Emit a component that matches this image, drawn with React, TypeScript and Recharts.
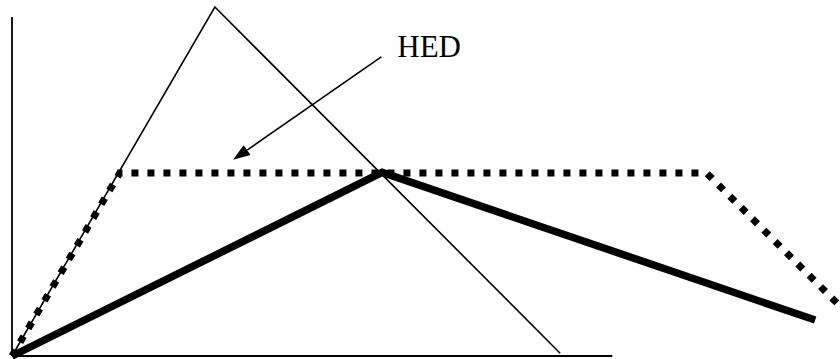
import { LineChart, Line, XAxis, YAxis, ReferenceLine } from 'recharts'

// x: time (arbitrary units), y: dose level (arbitrary units)
const thinPeak = [
  { x: 0, y: 0 },
  { x: 24.5, y: 100 },
  { x: 66.2, y: 0.8 },
]

const hedCurve = [
  { x: 0, y: 0 },
  { x: 13.0, y: 52.4 },
  { x: 83.9, y: 52.4 },
  { x: 100, y: 14.3 },
]

const boldCurve = [
  { x: 0, y: 0 },
  { x: 44.7, y: 52.6 },
  { x: 97.0, y: 10.3 },
]

const yAxisTop = 97.1
const xAxisEnd = 72.5
const arrowFrom = { x: 44.6, y: 85.7 }
const arrowTo = { x: 26.7, y: 56.2 }
const arrowLabel = 'HED'

function ArrowShape(props: any) {
  const { x1, y1, x2, y2 } = props
  const dx = x2 - x1
  const dy = y2 - y1
  const len = Math.sqrt(dx * dx + dy * dy)
  const ux = dx / len
  const uy = dy / len
  const head = 17
  const half = 6
  const bx = x2 - ux * head
  const by = y2 - uy * head
  const pts = `${x2},${y2} ${bx - uy * half},${by + ux * half} ${bx + uy * half},${by - ux * half}`
  return (
    <g>
      <line x1={x1} y1={y1} x2={bx} y2={by} stroke="#000" strokeWidth={1.6} />
      <polygon points={pts} fill="#000" />
      <text x={x1 + 16} y={y1} fontFamily="'Liberation Serif', serif" fontSize={31} fill="#000">
        {arrowLabel}
      </text>
    </g>
  )
}

export default function App() {
  return (
    <div style={{ position: 'absolute', left: 0, top: 0, background: '#fff' }}>
      <LineChart width={840} height={359} margin={{ top: 7, right: 0, bottom: 3, left: 12 }}>
        <XAxis type="number" dataKey="x" domain={[0, 100]} hide />
        <YAxis type="number" dataKey="y" domain={[0, 100]} hide />
        <ReferenceLine segment={[{ x: 0, y: 0 }, { x: 0, y: yAxisTop }]} stroke="#000" strokeWidth={1.8} ifOverflow="visible" />
        <ReferenceLine segment={[{ x: 0, y: 0 }, { x: xAxisEnd, y: 0 }]} stroke="#000" strokeWidth={2} ifOverflow="visible" />
        <Line data={thinPeak} dataKey="y" stroke="#000" strokeWidth={1.6} dot={false} isAnimationActive={false} strokeLinejoin="miter" />
        <Line data={hedCurve} dataKey="y" stroke="#000" strokeWidth={7} strokeDasharray="7 9" dot={false} isAnimationActive={false} />
        <Line data={boldCurve} dataKey="y" stroke="#000" strokeWidth={7.5} dot={false} isAnimationActive={false} strokeLinejoin="miter" />
        <ReferenceLine segment={[arrowFrom, arrowTo]} shape={ArrowShape} ifOverflow="visible" />
      </LineChart>
    </div>
  )
}
